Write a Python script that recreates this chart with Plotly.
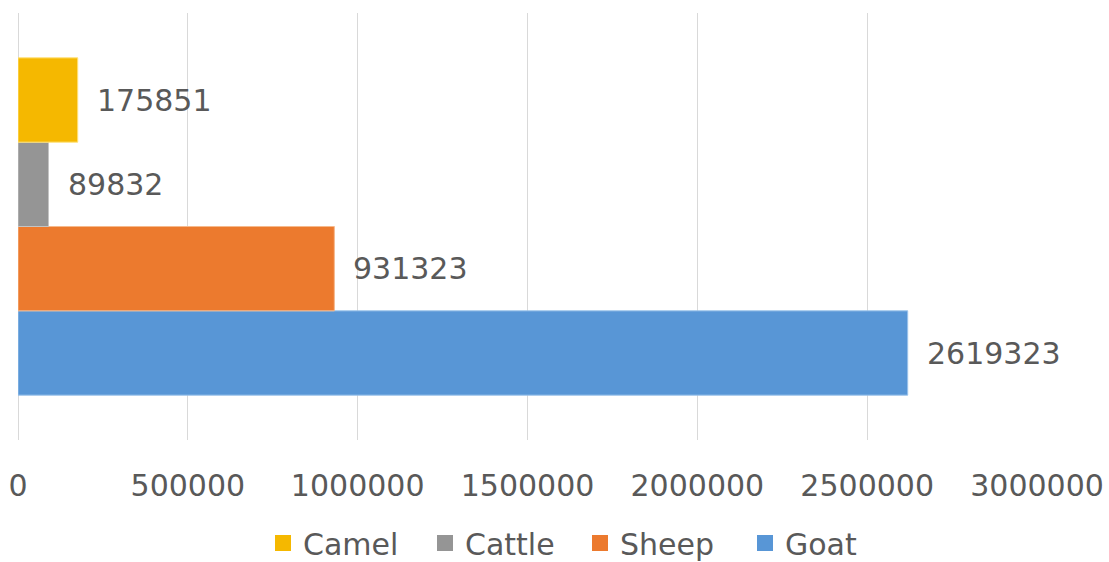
import plotly.graph_objects as go

# Livestock counts
animals = ["Goat", "Sheep", "Cattle", "Camel"]
counts = [2619323, 931323, 89832, 175851]
fill_colors = ["#5896D6", "#EC7A2E", "#959595", "#F5B800"]
edge_colors = ["#9CC3EA", "#F6B98C", "#C4C4C4", "#FFE27A"]

x_ticks = [0, 500000, 1000000, 1500000, 2000000, 2500000, 3000000]
category = ["Livestock"]

FONT = "DejaVu Sans"
TEXT_GREY = "#595959"
BAR_GAP = 0.21
W, H = 1109, 562

fig = go.Figure()

for name, val, col, edge in zip(animals, counts, fill_colors, edge_colors):
    fig.add_trace(go.Bar(
        name=name,
        y=category,
        x=[val],
        orientation="h",
        marker=dict(color=col, line=dict(color=edge, width=1)),
        showlegend=False,
        hoverinfo="x+name",
    ))

# Value labels just past the end of each bar, centred on each grouped bar
n = len(animals)
slot = (1 - BAR_GAP) / n
for i, val in enumerate(counts):
    fig.add_annotation(
        x=val, y=(i - (n - 1) / 2) * slot, xref="x", yref="y",
        text=str(val), showarrow=False,
        xanchor="left", yanchor="middle", xshift=17,
        font=dict(family=FONT, size=30, color=TEXT_GREY),
    )

# One small legend per animal so each entry sits at its own spot
legend_order = ["Camel", "Cattle", "Sheep", "Goat"]
legend_left = {"Camel": 263, "Cattle": 425, "Sheep": 580, "Goat": 745}
legend_layout = {}
for k, name in enumerate(legend_order):
    key = "legend" if k == 0 else f"legend{k + 1}"
    col = fill_colors[animals.index(name)]
    fig.add_trace(go.Scatter(
        x=[None], y=[None], mode="markers", name=name,
        marker=dict(symbol="square", size=17, color=col),
        showlegend=True, legend=key,
    ))
    legend_layout[key] = dict(
        xref="container", yref="container",
        x=legend_left[name] / W, xanchor="left",
        y=1 - 543 / H, yanchor="middle",
        orientation="h", bgcolor="rgba(0,0,0,0)", borderwidth=0,
        font=dict(family=FONT, size=30, color=TEXT_GREY),
    )

fig.update_layout(
    width=W, height=H,
    margin=dict(l=18, r=72, t=13, b=122, autoexpand=False),
    paper_bgcolor="white", plot_bgcolor="white",
    barmode="group", bargap=BAR_GAP, bargroupgap=0,
    font=dict(family=FONT, size=30, color=TEXT_GREY),
    xaxis=dict(
        range=[0, 3000000], tickvals=x_ticks, ticktext=[str(v) for v in x_ticks],
        showgrid=True, gridcolor="#D9D9D9", gridwidth=1,
        zeroline=True, zerolinecolor="#D9D9D9", zerolinewidth=1,
        showline=False, ticks="", ticklabelstandoff=25, automargin=False,
        tickfont=dict(family=FONT, size=30, color=TEXT_GREY),
    ),
    yaxis=dict(
        showticklabels=False, showgrid=False, zeroline=False, showline=False,
        range=[-0.5, 0.5], automargin=False,
    ),
    **legend_layout,
)

fig.write_html("out.html")
